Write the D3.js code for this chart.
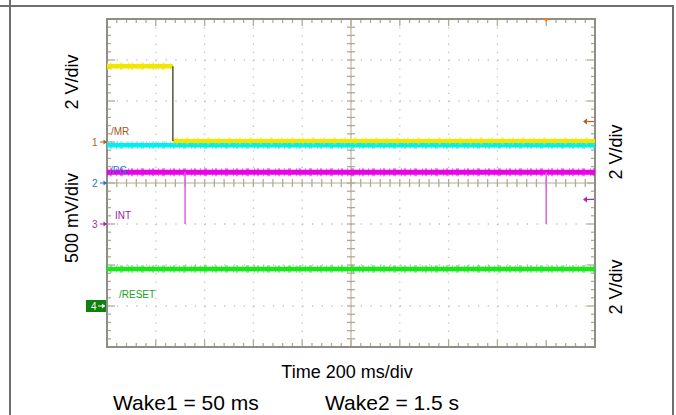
<!DOCTYPE html>
<html><head><meta charset="utf-8">
<script src="https://cdn.jsdelivr.net/npm/d3@7"></script>
<style>
html,body{margin:0;padding:0;background:#fff;}
svg{display:block;font-family:"Liberation Sans",Arial,sans-serif;}
</style></head>
<body>
<svg id="c" width="676" height="415"></svg>
<script>
// ---- data ----
const timeDomain = [-1800, 200];          // ms, 200 ms/div, trigger at 0
const divDomain = [-4, 4];                // vertical divisions
const channelNames = ["/MR", "/PG", "INT", "/RESET"];
const channelOffsets = [1, 0, -1, -3];    // reference position (div)
const channelVoltsPerDiv = [2, 0.5, 0.5, 2];
const channelColors = ["#f2e600", "#00f0f0", "#e800e8", "#18e818"];
const markerColors = ["#b4621e", "#2f6fd0", "#a828b0", "#0f7f12"];
const labelColors = ["#a0581c", "#3070d0", "#a020a8", "#22a022"];

const mrTime = [-1800, -1530, -1530, 200];
const mrVolt = [3.7, 3.7, 0.05, 0.05];
const pgTime = [-1800, 200];
const pgVolt = [0.46, 0.46];
const intTime = [-1800, 200];
const intVolt = [0.63, 0.63];
const intSpikeTime = [-1480, 0];
const intSpikeVolt = [0, 0];
const resetTime = [-1800, 200];
const resetVolt = [1.8, 1.8];

const leftAxisLabels = ["2 V/div", "500 mV/div"];
const rightAxisLabels = ["2 V/div", "2 V/div"];
const timeLabel = "Time 200 ms/div";
const notes = ["Wake1 = 50 ms", "Wake2 = 1.5 s"];

// ---- layout ----
const svg = d3.select("#c");
const L = 107, R = 595, T = 19, B = 347;
const x = d3.scaleLinear().domain(timeDomain).range([L, R]);
const y = d3.scaleLinear().domain(divDomain).range([B, T]);
const vy = (ch, v) => y(channelOffsets[ch] + v / channelVoltsPerDiv[ch]);

// outer frame
const frame = svg.append("g").attr("stroke", "#6e6e6e").attr("stroke-width", 2);
frame.append("line").attr("x1", 0).attr("x2", 674).attr("y1", 6).attr("y2", 6);
frame.append("line").attr("x1", 10).attr("x2", 10).attr("y1", 0).attr("y2", 415);
frame.append("line").attr("x1", 673).attr("x2", 673).attr("y1", 6).attr("y2", 415);

// grid
const majX = d3.range(-1800, 201, 200);
const majY = d3.range(-4, 5, 1);
const minX = d3.range(-1800, 201, 40);
const minY = d3.range(-4, 4.001, 0.2);
const g = svg.append("g");
const dx = x(40) - x(0), dyv = y(0) - y(0.2);
g.selectAll(".gx").data(majX.slice(1, -1).filter(d => d !== 0)).join("line")
  .attr("x1", d => x(d)).attr("x2", d => x(d)).attr("y1", T).attr("y2", B)
  .attr("stroke", "#c4c4bc").attr("stroke-width", 1.3)
  .attr("stroke-dasharray", `1.3,${dyv - 1.3}`);
g.selectAll(".gy").data(majY.slice(1, -1).filter(d => d !== 0)).join("line")
  .attr("x1", L).attr("x2", R).attr("y1", d => y(d)).attr("y2", d => y(d))
  .attr("stroke", "#c4c4bc").attr("stroke-width", 1.3)
  .attr("stroke-dasharray", `1.3,${dx - 1.3}`);

const tickCol = "#b3aa92";
g.append("line").attr("x1", L).attr("x2", R).attr("y1", y(0)).attr("y2", y(0)).attr("stroke", tickCol).attr("stroke-width", 1);
g.append("line").attr("x1", x(-800)).attr("x2", x(-800)).attr("y1", T).attr("y2", B).attr("stroke", tickCol).attr("stroke-width", 1);
g.selectAll(".cx").data(minX).join("line")
  .attr("x1", d => x(d)).attr("x2", d => x(d)).attr("y1", y(0) - 4).attr("y2", y(0) + 4)
  .attr("stroke", tickCol).attr("stroke-width", 1.3);
g.selectAll(".cy").data(minY).join("line")
  .attr("x1", x(-800) - 4).attr("x2", x(-800) + 4).attr("y1", d => y(d)).attr("y2", d => y(d))
  .attr("stroke", tickCol).attr("stroke-width", 1.3);
const isMajX = d => Math.abs(d % 200) < 1e-6;
const isMajY = d => Math.abs(d - Math.round(d)) < 1e-6;
g.selectAll(".tt").data(minX).join("line")
  .attr("x1", d => x(d)).attr("x2", d => x(d)).attr("y1", T).attr("y2", d => T + (isMajX(d) ? 7 : 4))
  .attr("stroke", tickCol).attr("stroke-width", 1.3);
g.selectAll(".tb").data(minX).join("line")
  .attr("x1", d => x(d)).attr("x2", d => x(d)).attr("y1", B).attr("y2", d => B - (isMajX(d) ? 7 : 4))
  .attr("stroke", tickCol).attr("stroke-width", 1.3);
g.selectAll(".tl").data(minY).join("line")
  .attr("x1", L).attr("x2", d => L + (isMajY(d) ? 8 : 4)).attr("y1", d => y(d)).attr("y2", d => y(d))
  .attr("stroke", tickCol).attr("stroke-width", 1.3);
g.selectAll(".tr").data(minY).join("line")
  .attr("x1", R).attr("x2", d => R - (isMajY(d) ? 8 : 4)).attr("y1", d => y(d)).attr("y2", d => y(d))
  .attr("stroke", tickCol).attr("stroke-width", 1.3);

svg.append("rect").attr("x", L).attr("y", T).attr("width", R - L).attr("height", B - T)
  .attr("fill", "none").attr("stroke", "#8e8e86").attr("stroke-width", 2);

// traces (solid band + ragged fuzz edge to mimic acquisition noise)
const tr = svg.append("g");
function band(ch, times, volts, w) {
  const pts = times.map((t, i) => [x(t), vy(ch, volts[i])]);
  const d = d3.line()(pts);
  tr.append("path").attr("d", d).attr("fill", "none")
    .attr("stroke", channelColors[ch]).attr("stroke-width", w + 3)
    .attr("stroke-opacity", 0.55).attr("stroke-dasharray", "1,2,2,4,1,3,3,5");
  tr.append("path").attr("d", d).attr("fill", "none")
    .attr("stroke", channelColors[ch]).attr("stroke-width", w);
}
band(1, pgTime, pgVolt, 4.5);
band(0, mrTime.slice(0, 2), mrVolt.slice(0, 2), 4.5);
band(0, mrTime.slice(2), mrVolt.slice(2), 4);
tr.append("line").attr("x1", x(mrTime[1])).attr("x2", x(mrTime[2]))
  .attr("y1", vy(0, mrVolt[1])).attr("y2", vy(0, mrVolt[2]))
  .attr("stroke", "#2a2a10").attr("stroke-width", 1.2);
band(2, intTime, intVolt, 5);
tr.selectAll(".sp").data(intSpikeTime).join("line")
  .attr("x1", d => x(d)).attr("x2", d => x(d))
  .attr("y1", vy(2, intVolt[0])).attr("y2", (d, i) => vy(2, intSpikeVolt[i]))
  .attr("stroke", "#e060e0").attr("stroke-width", 1.5);
band(3, resetTime, resetVolt, 4.5);

// channel markers (left)
const mk = svg.append("g").attr("font-size", 10);
channelOffsets.forEach((o, i) => {
  const yy = y(o);
  if (i === 3) {
    mk.append("rect").attr("x", 86).attr("y", yy - 6).attr("width", 20).attr("height", 12).attr("fill", markerColors[i]);
    mk.append("text").attr("x", 91).attr("y", yy + 4).attr("fill", "#fff").text(String(i + 1));
    mk.append("line").attr("x1", 98).attr("x2", 105).attr("y1", yy).attr("y2", yy).attr("stroke", "#fff").attr("stroke-width", 1);
    mk.append("path").attr("d", `M105,${yy}l-3,-2.5v5z`).attr("fill", "#fff");
  } else {
    mk.append("text").attr("x", 92).attr("y", yy + 4).attr("fill", markerColors[i]).text(String(i + 1));
    mk.append("line").attr("x1", 100).attr("x2", 107).attr("y1", yy).attr("y2", yy).attr("stroke", markerColors[i]).attr("stroke-width", 1);
    mk.append("path").attr("d", `M107,${yy}l-3.5,-2.5v5z`).attr("fill", markerColors[i]);
  }
});
const labPos = [[111, 135], [110, 174], [115, 219], [119, 298]];
channelNames.forEach((n, i) => {
  svg.append("text").attr("x", labPos[i][0]).attr("y", labPos[i][1]).attr("font-size", 10)
    .attr("fill", labelColors[i]).text(n);
});
const rightArrows = [[1.5, 0], [-0.4, 2]];
rightArrows.forEach(([d, ch]) => {
  const yy = y(d);
  svg.append("line").attr("x1", 584).attr("x2", 594).attr("y1", yy).attr("y2", yy).attr("stroke", markerColors[ch]).attr("stroke-width", 1.2);
  svg.append("path").attr("d", `M583,${yy}l4,-3v6z`).attr("fill", markerColors[ch]);
});
svg.append("path").attr("d", `M${x(0) - 3.5},${T - 1}h7l-3.5,4z`).attr("fill", "#f07a2a");

const rot = (xx, yy, txt) => svg.append("text").attr("transform", `translate(${xx},${yy}) rotate(-90)`)
  .attr("text-anchor", "middle").attr("font-size", 18).attr("fill", "#000").text(txt);
rot(78, 82, leftAxisLabels[0]);
rot(78, 218, leftAxisLabels[1]);
rot(622, 152, rightAxisLabels[0]);
rot(622, 287, rightAxisLabels[1]);

svg.append("text").attr("x", 347).attr("y", 378).attr("text-anchor", "middle").attr("font-size", 18).text(timeLabel);
svg.append("text").attr("x", 113).attr("y", 410).attr("font-size", 21).text(notes[0]);
svg.append("text").attr("x", 325).attr("y", 410).attr("font-size", 21).text(notes[1]);
</script>
</body></html>
